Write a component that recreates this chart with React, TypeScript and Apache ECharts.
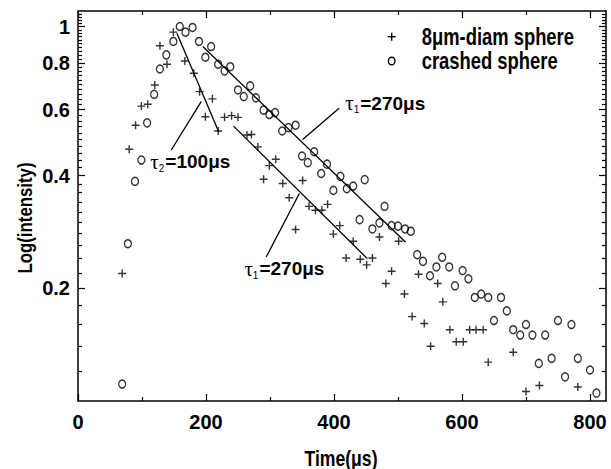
import React, { useEffect, useRef } from "react";
import * as echarts from "echarts";

// ---- data ----
const sphereX = [69, 80, 90, 99, 109, 120, 128, 139, 149, 167, 181, 190, 199, 210, 219, 229, 240, 250, 264, 271, 281, 290, 299, 309, 320, 330, 340, 351, 361, 371, 381, 390, 399, 409, 419, 430, 441, 451, 460, 471, 481, 490, 501, 510, 522, 532, 541, 551, 562, 570, 581, 591, 602, 612, 622, 633, 641, 680, 700, 721, 781];
const sphereY = [0.219, 0.470, 0.545, 0.613, 0.620, 0.698, 0.888, 0.793, 0.966, 0.809, 0.750, 0.670, 0.574, 0.641, 0.526, 0.572, 0.578, 0.572, 0.513, 0.515, 0.477, 0.391, 0.425, 0.442, 0.381, 0.349, 0.287, 0.388, 0.331, 0.323, 0.323, 0.335, 0.279, 0.294, 0.241, 0.267, 0.239, 0.231, 0.241, 0.274, 0.206, 0.222, 0.267, 0.193, 0.168, 0.218, 0.161, 0.140, 0.206, 0.184, 0.155, 0.144, 0.144, 0.155, 0.155, 0.155, 0.127, 0.135, 0.106, 0.110, 0.109];

const crashedX = [69, 78, 89, 99, 108, 119, 128, 138, 149, 159, 168, 179, 189, 199, 208, 219, 229, 238, 250, 259, 269, 278, 290, 299, 308, 319, 329, 340, 350, 359, 369, 380, 389, 399, 410, 420, 430, 440, 448, 460, 471, 479, 490, 500, 511, 520, 530, 539, 550, 560, 569, 580, 589, 601, 610, 620, 630, 641, 650, 661, 670, 680, 691, 700, 710, 720, 730, 740, 750, 761, 771, 781, 800, 810];
const crashedY = [0.111, 0.263, 0.386, 0.440, 0.553, 0.659, 0.770, 0.840, 0.912, 1.0, 0.966, 0.994, 0.912, 0.828, 0.884, 0.793, 0.761, 0.781, 0.677, 0.650, 0.694, 0.645, 0.598, 0.582, 0.589, 0.526, 0.537, 0.545, 0.451, 0.433, 0.463, 0.405, 0.429, 0.365, 0.398, 0.369, 0.375, 0.305, 0.390, 0.288, 0.299, 0.331, 0.294, 0.293, 0.288, 0.284, 0.246, 0.236, 0.216, 0.228, 0.242, 0.228, 0.203, 0.223, 0.212, 0.189, 0.193, 0.189, 0.164, 0.189, 0.174, 0.155, 0.150, 0.160, 0.150, 0.126, 0.150, 0.130, 0.164, 0.116, 0.160, 0.130, 0.121, 0.105];

// fitted decay lines [x, y] end points
const fitTau2 = [[154.5, 0.960], [220, 0.523]];
const fitTau1Crashed = [[195, 0.884], [512, 0.2655]];
const fitTau1Sphere = [[243, 0.542], [452, 0.240]];

// annotation arrows: [tail, head]
const arrowTau2 = [[145.7, 0.468], [192.5, 0.630]];
const arrowTau1Upper = [[408, 0.605], [351, 0.499]];
const arrowTau1Lower = [[294, 0.2423], [345.9, 0.358]];

// annotation label anchors (centre of text)
const labelTau2 = [175.5, 0.435];
const labelTau1Upper = [480, 0.624];
const labelTau1Lower = [322.5, 0.2254];

// axes
const xMin = 0;
const xMax = 825;
const xTickLabels = [0, 200, 400, 600, 800];
const xMinorTicks = [100, 300, 500, 700];
const yMin = 0.1;
const yMax = 1.1;
const yTickLabels = [0.2, 0.4, 0.6, 0.8, 1];
const yMinorTicks: number[] = [];
for (let i = 6; i <= 54; i++) {
  const v = i / 50;
  if (!yTickLabels.some((t) => Math.abs(t - v) < 1e-9)) yMinorTicks.push(v);
}

const FONT = "'Liberation Sans', Arial, sans-serif";
const SERIF = "'Liberation Serif', 'DejaVu Serif', serif";
const PLUS = "path://M0,5H10M5,0V10";
const NARROW = 0.8;

const lg = (v: number) => Math.log10(v);
const lgMin = lg(yMin);
const lgMax = lg(yMax);

const tickStyle = { color: "#000", width: 1.2 };

function xAxisDef(position: "bottom" | "top", major: boolean, withLine: boolean, withLabels: boolean) {
  return {
    type: "value",
    position,
    min: xMin,
    max: xMax,
    axisLine: { show: withLine, onZero: false, lineStyle: { color: "#000", width: 1.5 } },
    axisTick: {
      show: true,
      inside: true,
      length: major ? 7 : 4,
      customValues: major ? xTickLabels : xMinorTicks,
      lineStyle: tickStyle,
    },
    axisLabel: withLabels
      ? {
          show: true,
          customValues: xTickLabels,
          margin: 11,
          color: "#000",
          fontFamily: FONT,
          fontWeight: "bold",
          fontSize: 20,
        }
      : { show: false },
    splitLine: { show: false },
  };
}

function yAxisDef(position: "left" | "right", major: boolean, withLine: boolean, withLabels: boolean) {
  return {
    type: "value",
    position,
    min: lgMin,
    max: lgMax,
    axisLine: { show: withLine, onZero: false, lineStyle: { color: "#000", width: 1.5 } },
    axisTick: {
      show: true,
      inside: true,
      length: major ? 7 : 4,
      customValues: (major ? yTickLabels : yMinorTicks).map(lg),
      lineStyle: tickStyle,
    },
    axisLabel: withLabels
      ? {
          show: true,
          customValues: yTickLabels.map(lg),
          formatter: (v: number) => String(Math.round(Math.pow(10, v) * 10) / 10),
          margin: 8,
          color: "#000",
          fontFamily: FONT,
          fontWeight: "bold",
          fontSize: 20,
        }
      : { show: false },
    splitLine: { show: false },
  };
}

const zip = (xs: number[], ys: number[]) => xs.map((x, i) => [x, ys[i]]);

function narrowText(text: string, x: number, y: number, size: number, align: string, rotation = 0) {
  return {
    type: "text",
    x,
    y,
    rotation,
    scaleX: NARROW,
    style: {
      text,
      fontFamily: FONT,
      fontWeight: "bold",
      fontSize: size,
      fill: "#000",
      align,
      verticalAlign: "middle",
    },
  };
}

export default function App() {
  const ref = useRef<HTMLDivElement>(null);
  useEffect(() => {
    if (!ref.current) return;
    const chart = echarts.init(ref.current, undefined, { renderer: "svg" });
    const lineCommon = {
      type: "line",
      symbol: "none",
      silent: true,
      lineStyle: { color: "#000", width: 1.3 },
      itemStyle: { color: "#000" },
    };
    const rich = {
      t: { fontFamily: SERIF, fontSize: 21, color: "#000" },
      s: { fontFamily: FONT, fontSize: 10, color: "#000", verticalAlign: "bottom", padding: [13, 1, 0, 0] },
      v: { fontFamily: FONT, fontWeight: "bold", fontSize: 19, color: "#000" },
    };
    chart.setOption({
      animation: false,
      grid: { left: 78, right: 5, top: 11, bottom: 68, containLabel: false },
      xAxis: [
        xAxisDef("bottom", true, true, true),
        xAxisDef("bottom", false, false, false),
        xAxisDef("top", true, true, false),
        xAxisDef("top", false, false, false),
      ],
      yAxis: [
        {
          type: "log",
          position: "left",
          min: yMin,
          max: yMax,
          axisLine: { show: true, onZero: false, lineStyle: { color: "#000", width: 1.5 } },
          axisTick: { show: false },
          axisLabel: { show: false },
          splitLine: { show: false },
        },
        yAxisDef("left", true, false, true),
        yAxisDef("left", false, false, false),
        yAxisDef("right", true, true, false),
        yAxisDef("right", false, false, false),
      ],
      series: [
        {
          name: "8μm-diam sphere",
          type: "scatter",
          silent: true,
          symbol: PLUS,
          symbolSize: 8,
          itemStyle: { color: "transparent", borderColor: "#000", borderWidth: 1.4 },
          data: zip(sphereX, sphereY),
        },
        {
          name: "crashed sphere",
          type: "scatter",
          silent: true,
          symbol: "circle",
          symbolSize: [7, 8],
          itemStyle: { color: "transparent", borderColor: "#000", borderWidth: 1.4 },
          data: zip(crashedX, crashedY),
        },
        { ...lineCommon, name: "fit τ2", data: fitTau2 },
        { ...lineCommon, name: "fit τ1 crashed", data: fitTau1Crashed },
        {
          ...lineCommon,
          name: "fit τ1 sphere",
          data: fitTau1Sphere,
          markLine: {
            silent: true,
            symbol: ["none", "arrow"],
            symbolSize: [0, 11],
            label: { show: false },
            lineStyle: { type: "solid", color: "#000", width: 1.3 },
            data: [arrowTau2, arrowTau1Upper, arrowTau1Lower].map((a) => [
              { coord: a[0] },
              { coord: a[1] },
            ]),
          },
          markPoint: {
            silent: true,
            symbol: "circle",
            symbolSize: 1,
            itemStyle: { color: "transparent" },
            label: { show: true, position: "inside", rich },
            data: [
              { coord: labelTau2, label: { formatter: "{t|τ}{s|2}{v|=100μs}" } },
              { coord: labelTau1Upper, label: { formatter: "{t|τ}{s|1}{v|=270μs}" } },
              { coord: labelTau1Lower, label: { formatter: "{t|τ}{s|1}{v|=270μs}" } },
            ],
          },
        },
      ],
      graphic: [
        narrowText("Log(intensity)", 25, 218, 21, "center", Math.PI / 2),
        narrowText("Time(μs)", 341, 458, 22, "center"),
        { type: "line", shape: { x1: 387.7, y1: 36.7, x2: 395.7, y2: 36.7 }, style: { stroke: "#000", lineWidth: 1.4 } },
        { type: "line", shape: { x1: 391.7, y1: 32.7, x2: 391.7, y2: 40.7 }, style: { stroke: "#000", lineWidth: 1.4 } },
        { type: "ellipse", shape: { cx: 391.7, cy: 61, rx: 3.3, ry: 3.8 }, style: { fill: "none", stroke: "#000", lineWidth: 1.4 } },
        narrowText("8μm-diam sphere", 421.7, 36.7, 23, "left"),
        narrowText("crashed sphere", 421.7, 61, 23, "left"),
      ],
    });
    return () => chart.dispose();
  }, []);
  return <div ref={ref} style={{ position: "fixed", left: 0, top: 0, width: 611, height: 469, background: "#fff" }} />;
}
